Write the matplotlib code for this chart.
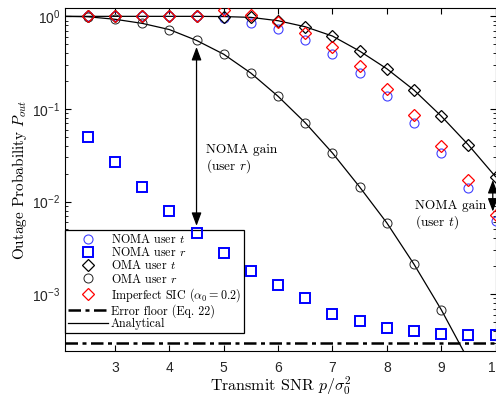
import numpy as np
import matplotlib
matplotlib.use('Agg')
import matplotlib.pyplot as plt

plt.rcParams['font.family'] = 'Liberation Sans'
plt.rcParams['mathtext.fontset'] = 'cm'

# transmit SNR grid of the simulated points
snr = [2.5, 3.0, 3.5, 4.0, 4.5, 5.0, 5.5, 6.0, 6.5, 7.0, 7.5, 8.0, 8.5, 9.0, 9.5, 10.0]

noma_t = [1.0, 1.0, 1.0, 1.0, 1.0, 0.95, 0.853, 0.724, 0.551, 0.389, 0.243, 0.137,
          0.0711, 0.0333, 0.0142, 0.0061]
noma_r = [0.0499, 0.0268, 0.0144, 0.0079, 0.00463, 0.0028, 0.00179, 0.00125,
          0.000906, 0.000618, 0.000515, 0.00043, 0.000399, 0.000376, 0.000366, 0.000366]
oma_t = [1.0, 1.0, 1.0, 1.0, 1.0, 0.995, 0.975, 0.897, 0.772, 0.613, 0.422, 0.272,
         0.160, 0.084, 0.041, 0.0186]
oma_r = [0.99, 0.93, 0.84, 0.72, 0.55, 0.39, 0.244, 0.137, 0.071, 0.0335, 0.0144,
         0.0059, 0.00211, 0.000684, 0.000195, 0.00005]
sic = [1.0, 1.0, 1.0, 1.0, 1.0, 1.17, 1.04, 0.875, 0.666, 0.463, 0.293, 0.163,
       0.0855, 0.0401, 0.0171, 0.0072]

# analytical curves start at SNR 2
curve_snr = [2.0] + snr
oma_t_curve = [1.0] + oma_t
oma_r_curve = [1.0] + oma_r

error_floor = 3.0e-4

# gain arrows: (snr, top, bottom)
gain_r = (4.5, 0.467, 0.00547)
gain_t = (9.95, 0.0171, 0.0078)

fig = plt.figure(figsize=(4.96, 3.97), dpi=100)
ax = fig.add_axes([0.131, 0.1159, 0.868, 0.8639])

cm = 'cmr10'

ax.plot(curve_snr, oma_t_curve, '-', color='k', lw=0.9, zorder=2)
ax.plot(curve_snr, oma_r_curve, '-', color='k', lw=0.9, zorder=2)
ax.axhline(error_floor, color='k', lw=1.8, ls=(0, (5, 1.8, 1.6, 1.8)), zorder=2)

ax.plot(snr, noma_t, 'o', ms=6.5, mfc='none', mec='#4040ff', mew=0.8, zorder=3)
ax.plot(snr, noma_r, 's', ms=7, mfc='none', mec='#0000ff', mew=1.4, zorder=3)
ax.plot(snr, oma_t, 'D', ms=6, mfc='none', mec='k', mew=0.9, zorder=3)
ax.plot(snr, oma_r, 'o', ms=6.5, mfc='none', mec='#222222', mew=0.7, zorder=3)
ax.plot(snr, sic, 'D', ms=6, mfc='none', mec='#ff0000', mew=0.9, zorder=3)

arrow = dict(arrowstyle='<|-|>,head_length=0.8,head_width=0.3', color='k', lw=0.9,
             shrinkA=0, shrinkB=0)
ax.annotate('', xy=(gain_r[0], gain_r[1]), xytext=(gain_r[0], gain_r[2]),
            arrowprops=arrow, zorder=4)
ax.annotate('', xy=(gain_t[0], gain_t[1]), xytext=(gain_t[0], gain_t[2]),
            arrowprops=arrow, zorder=4)
ax.text(4.67, 0.0285, 'NOMA gain\n(user $r$)', family=cm, fontsize=9.6,
        ha='left', va='center', linespacing=1.15)
ax.text(8.52, 0.0071, 'NOMA gain\n(user $t$)', family=cm, fontsize=9.6,
        ha='left', va='center', linespacing=1.15)

ax.set_yscale('log')
ax.set_xlim(2.08, 10)
ax.set_ylim(2.44e-4, 1.23)
ax.set_xticks([3, 4, 5, 6, 7, 8, 9, 10])
ax.set_yticks([1e-3, 1e-2, 1e-1, 1])
ax.tick_params(which='both', direction='in', top=True, right=True, labelsize=10,
               colors='k', labelcolor='#262626')
ax.tick_params(which='major', length=4)
ax.tick_params(which='minor', length=2.2)
ax.tick_params(axis='x', pad=7)

ax.set_xlabel(r'Transmit SNR $p/\sigma_0^2$', family=cm, fontsize=11.5, labelpad=0)
ax.set_ylabel(r'Outage Probability $P_{out}$', family=cm, fontsize=11, labelpad=2)

# legend proxies
h = [
    ax.plot([], [], 'o', ms=6.5, mfc='none', mec='#4040ff', mew=0.8)[0],
    ax.plot([], [], 's', ms=7, mfc='none', mec='#0000ff', mew=1.4)[0],
    ax.plot([], [], 'D', ms=6, mfc='none', mec='k', mew=0.9)[0],
    ax.plot([], [], 'o', ms=6.5, mfc='none', mec='#222222', mew=0.7)[0],
    ax.plot([], [], 'D', ms=6, mfc='none', mec='#ff0000', mew=0.9)[0],
    ax.plot([], [], color='k', lw=1.8, ls=(0, (5, 1.8, 1.6, 1.8)))[0],
    ax.plot([], [], color='k', lw=0.9)[0],
]
labels = ['NOMA user $t$', 'NOMA user $r$', 'OMA user $t$', 'OMA user $r$',
          r'Imperfect SIC ($\alpha_0 = 0.2$)', 'Error floor (Eq. 22)', 'Analytical']
leg = ax.legend(h, labels, loc='upper left', bbox_to_anchor=(0, 0.353),
                borderaxespad=0, prop={'family': cm, 'size': 8.7}, fancybox=False,
                edgecolor='k', framealpha=1, handlelength=3.3, handletextpad=0.25,
                labelspacing=0.02, borderpad=0.25)
leg.get_frame().set_linewidth(0.9)
leg.set_zorder(2.5)

fig.savefig('out.png', dpi=100)
